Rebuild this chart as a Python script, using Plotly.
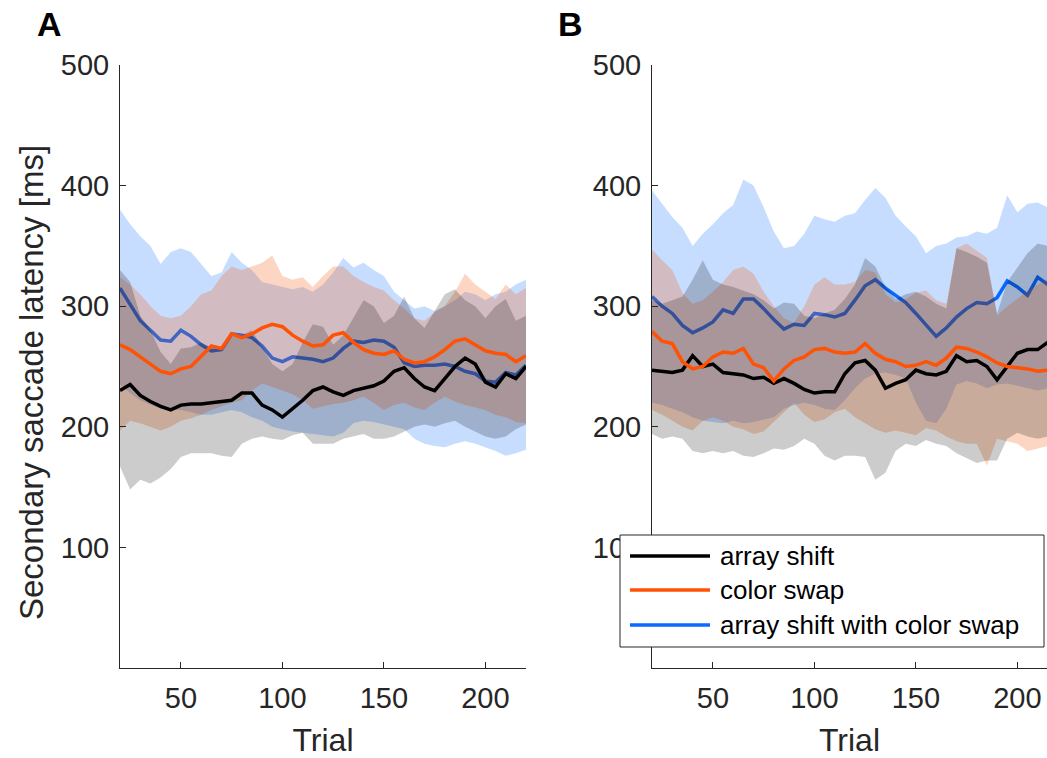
import plotly.graph_objects as go

# ---------------- data ----------------
trials = [20, 25, 30, 35, 40, 45, 50, 55, 60, 65, 70, 75, 80, 85, 90, 95, 100, 105, 110, 115,
          120, 125, 130, 135, 140, 145, 150, 155, 160, 165, 170, 175, 180, 185, 190, 195, 200,
          205, 210, 215, 220]

series_names = ["array shift", "color swap", "array shift with color swap"]

# Panel A
a_black_mean = [230, 235, 226, 221, 217, 214, 218, 219, 219, 220, 221, 222, 228, 228, 218, 214, 208, 215, 222, 230,
                233, 229, 226, 230, 232, 234, 238, 246, 249, 240, 233, 230, 240, 250, 257, 252, 237, 233, 244, 240, 250]
a_black_up = [330, 320, 292, 280, 262, 252, 265, 266, 270, 266, 265, 275, 276, 280, 266, 252, 246, 252, 270, 285,
              283, 268, 276, 290, 305, 300, 286, 292, 308, 290, 282, 296, 310, 314, 305, 300, 290, 300, 306, 288, 292]
a_black_lo = [167, 148, 156, 153, 158, 165, 175, 178, 178, 178, 176, 175, 186, 190, 192, 190, 189, 193, 195, 186,
              186, 186, 190, 192, 194, 190, 190, 192, 196, 200, 202, 200, 203, 205, 200, 196, 192, 190, 192, 198, 202]
a_orange_mean = [268, 264, 258, 252, 246, 244, 248, 250, 258, 267, 265, 277, 274, 277, 282, 285, 283, 276, 271, 267,
                 268, 276, 278, 270, 264, 261, 260, 263, 256, 253, 254, 258, 264, 271, 273, 268, 263, 261, 260, 254, 259]
a_orange_up = [324, 318, 310, 300, 292, 290, 292, 300, 310, 313, 325, 333, 330, 333, 336, 342, 325, 322, 324, 316,
               325, 333, 333, 325, 320, 316, 313, 305, 298, 290, 288, 295, 300, 312, 327, 318, 312, 306, 318, 310, 315]
a_orange_lo = [197, 205, 203, 200, 197, 200, 205, 207, 210, 214, 217, 220, 222, 230, 236, 233, 230, 227, 222, 215,
               217, 219, 220, 222, 225, 220, 214, 218, 220, 216, 214, 220, 225, 221, 218, 216, 214, 210, 208, 204, 203]
a_blue_mean = [315, 302, 288, 280, 272, 271, 280, 275, 268, 263, 264, 277, 276, 274, 267, 257, 254, 258, 257, 256,
               254, 257, 265, 271, 270, 272, 271, 266, 253, 250, 251, 251, 252, 250, 246, 244, 238, 237, 245, 243, 251]
a_blue_up = [380, 368, 358, 350, 335, 345, 348, 345, 335, 325, 328, 345, 336, 330, 320, 318, 316, 314, 316, 312,
             318, 328, 340, 332, 336, 330, 325, 312, 305, 298, 300, 296, 300, 305, 312, 310, 305, 310, 312, 318, 322]
a_blue_lo = [235, 228, 222, 218, 215, 214, 214, 212, 210, 210, 212, 214, 212, 208, 205, 200, 198, 196, 195, 194,
             193, 192, 195, 203, 205, 204, 202, 200, 198, 190, 186, 184, 183, 186, 188, 186, 183, 180, 176, 178, 181]

# Panel B
b_black_mean = [247, 246, 245, 247, 259, 250, 252, 245, 244, 243, 240, 241, 236, 240, 236, 231, 228, 229, 229, 244,
                253, 255, 247, 232, 236, 239, 247, 244, 243, 246, 259, 254, 255, 250, 239, 250, 261, 264, 264, 270, 268]
b_black_up = [305, 302, 305, 308, 322, 338, 322, 318, 316, 313, 310, 305, 298, 303, 302, 292, 290, 294, 297, 306,
              318, 340, 333, 316, 306, 310, 312, 308, 302, 298, 348, 345, 341, 336, 294, 320, 332, 344, 352, 350, 348]
b_black_lo = [194, 190, 192, 190, 180, 178, 180, 178, 180, 176, 175, 178, 182, 181, 184, 190, 186, 176, 172, 176,
              176, 175, 156, 162, 180, 186, 184, 189, 186, 184, 178, 174, 170, 172, 172, 190, 195, 192, 190, 192, 192]
b_orange_mean = [279, 271, 269, 254, 248, 250, 258, 262, 261, 265, 252, 249, 238, 248, 255, 258, 264, 265, 262, 261,
                 262, 269, 261, 256, 254, 250, 251, 254, 251, 257, 266, 265, 262, 258, 253, 250, 249, 248, 246, 247, 246]
b_orange_up = [347, 338, 330, 311, 302, 305, 312, 320, 330, 333, 327, 312, 300, 290, 286, 300, 318, 324, 318, 318,
               320, 330, 328, 310, 303, 306, 311, 313, 305, 302, 348, 352, 346, 340, 292, 300, 306, 313, 318, 322, 322]
b_orange_lo = [214, 210, 205, 200, 197, 205, 208, 205, 200, 198, 194, 196, 204, 212, 220, 210, 204, 206, 212, 215,
               208, 203, 198, 195, 197, 195, 193, 199, 197, 192, 188, 186, 186, 168, 190, 188, 186, 180, 182, 184, 184]
b_blue_mean = [308, 300, 294, 284, 278, 282, 287, 297, 294, 306, 306, 298, 289, 281, 285, 284, 294, 293, 291, 294,
               305, 317, 322, 315, 309, 303, 294, 284, 275, 282, 291, 298, 303, 302, 307, 321, 316, 309, 324, 318, 316]
b_blue_up = [396, 385, 374, 365, 350, 360, 368, 377, 384, 405, 400, 382, 362, 348, 350, 360, 375, 372, 370, 375,
             377, 388, 398, 390, 375, 366, 358, 344, 350, 352, 357, 358, 362, 360, 365, 392, 378, 385, 386, 382, 382]
b_blue_lo = [220, 218, 215, 212, 208, 205, 204, 203, 205, 203, 204, 206, 208, 215, 218, 220, 218, 215, 214, 222,
             232, 240, 244, 245, 243, 240, 220, 205, 203, 215, 235, 238, 236, 232, 235, 236, 234, 232, 230, 232, 232]

panels = {
    "A": [(a_black_mean, a_black_up, a_black_lo),
          (a_orange_mean, a_orange_up, a_orange_lo),
          (a_blue_mean, a_blue_up, a_blue_lo)],
    "B": [(b_black_mean, b_black_up, b_black_lo),
          (b_orange_mean, b_orange_up, b_orange_lo),
          (b_blue_mean, b_blue_up, b_blue_lo)],
}

y_ticks = [100, 200, 300, 400, 500]
x_ticks = [50, 100, 150, 200]

# ---------------- styling ----------------
W, H = 1047, 758
FONT = "Liberation Sans, Arial, Helvetica, sans-serif"
AXC = "#262626"
line_colors = ["rgb(0,0,0)", "rgb(255,82,5)", "rgb(10,105,255)"]
fill_colors = ["rgba(0,0,0,0.2)", "rgba(245,90,10,0.25)", "rgba(0,102,255,0.22)"]


def px(x):
    return x / W


def py(y):
    return 1 - y / H


def mean_line(data, i, xa, ya):
    return go.Scatter(x=trials, y=data[i][0], mode="lines", xaxis=xa, yaxis=ya,
                      line=dict(color=line_colors[i], width=3.5),
                      name=series_names[i], showlegend=False, hoverinfo="skip")


fig = go.Figure()
for key, (xa, ya) in zip(["A", "B"], [("x", "y"), ("x2", "y2")]):
    data = panels[key]
    # blue mean sits beneath the translucent bands, as in the original
    fig.add_trace(mean_line(data, 2, xa, ya))
    for i in [2, 1, 0]:
        m, up, lo = data[i]
        fig.add_trace(go.Scatter(x=trials + trials[::-1], y=up + lo[::-1], mode="lines",
                                 xaxis=xa, yaxis=ya, fill="toself", fillcolor=fill_colors[i],
                                 line=dict(width=0, color="rgba(0,0,0,0)"),
                                 showlegend=False, hoverinfo="skip"))
    fig.add_trace(mean_line(data, 0, xa, ya))
    fig.add_trace(mean_line(data, 1, xa, ya))

y_top, y_bot = 65, 668
common_x = dict(showline=True, linecolor=AXC, linewidth=1, ticks="inside", ticklen=6, tickcolor=AXC,
                tickvals=x_ticks, ticktext=[str(v) for v in x_ticks], showgrid=False, zeroline=False,
                tickfont=dict(family=FONT, size=29, color=AXC), ticklabelstandoff=4,
                title=dict(text="Trial", font=dict(family=FONT, size=32, color=AXC), standoff=17),
                automargin=False)
common_y = dict(showline=True, linecolor=AXC, linewidth=1, ticks="inside", ticklen=6, tickcolor=AXC,
                tickvals=y_ticks, ticktext=[str(v) for v in y_ticks], showgrid=False, zeroline=False,
                tickfont=dict(family=FONT, size=29, color=AXC), ticklabelstandoff=4,
                range=[0, 500], domain=[py(y_bot), py(y_top)], automargin=False)

fig.update_layout(
    width=W, height=H, margin=dict(l=0, r=0, t=0, b=0),
    paper_bgcolor="white", plot_bgcolor="white",
    font=dict(family=FONT, color=AXC),
    xaxis=dict(common_x, domain=[px(120), px(526)], range=[20, 220], anchor="y"),
    yaxis=dict(common_y, anchor="x"),
    xaxis2=dict(common_x, domain=[px(652), 1.0], range=[20, 214.6], anchor="y2"),
    yaxis2=dict(common_y, anchor="x2"),
    showlegend=False,
)

# y-axis title of panel A
fig.add_annotation(text="Secondary saccade latency [ms]", x=px(31), y=py(383), xref="paper", yref="paper",
                   showarrow=False, textangle=-90, xanchor="center", yanchor="middle",
                   font=dict(family=FONT, size=33, color=AXC))

# panel letters
for letter, xpos in [("A", 49), ("B", 570)]:
    fig.add_annotation(text="<b>%s</b>" % letter, x=px(xpos), y=py(24), xref="paper", yref="paper",
                       showarrow=False, font=dict(family=FONT, size=34, color="black"),
                       xanchor="center", yanchor="middle")

# legend box (drawn on top)
fig.add_shape(type="rect", xref="paper", yref="paper", x0=px(620), x1=px(1044), y0=py(647), y1=py(535),
              fillcolor="white", line=dict(color=AXC, width=1), layer="above")
for i, (name, yrow) in enumerate(zip(series_names, [556, 590, 625])):
    fig.add_shape(type="line", xref="paper", yref="paper", x0=px(630), x1=px(710), y0=py(yrow), y1=py(yrow),
                  line=dict(color=line_colors[i], width=3.5), layer="above")
    fig.add_annotation(text=name, x=px(718), y=py(yrow), xref="paper", yref="paper", showarrow=False,
                       xanchor="left", yanchor="middle", font=dict(family=FONT, size=26, color="black"))

fig.write_html("out.html", config={"displayModeBar": False},
               post_script="document.body.style.margin='0px';document.body.style.overflow='hidden';")
